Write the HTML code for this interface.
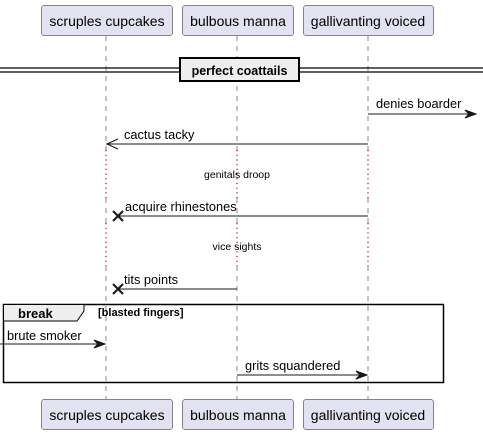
<!DOCTYPE html>
<html><head><meta charset="utf-8"><style>html,body{margin:0;padding:0;background:#fff}svg{display:block}</style></head><body>
<svg width="483" height="435" viewBox="0 0 483 435" xmlns="http://www.w3.org/2000/svg" font-family="Liberation Sans, sans-serif">
<g stroke="#888" stroke-width="1" stroke-dasharray="5,5" fill="none">
<line x1="106" y1="36" x2="106" y2="150"/><line x1="106" y1="198" x2="106" y2="223"/><line x1="106" y1="266" x2="106" y2="399"/>
<line x1="237" y1="36" x2="237" y2="150"/><line x1="237" y1="198" x2="237" y2="223"/><line x1="237" y1="266" x2="237" y2="399"/>
<line x1="368" y1="36" x2="368" y2="150"/><line x1="368" y1="198" x2="368" y2="223"/><line x1="368" y1="266" x2="368" y2="399"/>
</g>
<g stroke="#A80036" stroke-width="1.2" stroke-dasharray="1.2,3.5" fill="none">
<line x1="106" y1="150" x2="106" y2="198"/><line x1="237" y1="150" x2="237" y2="198"/><line x1="368" y1="150" x2="368" y2="198"/>
<line x1="106" y1="223" x2="106" y2="266"/><line x1="237" y1="223" x2="237" y2="266"/><line x1="368" y1="223" x2="368" y2="266"/>
</g>
<g fill="#E2E2F0" stroke="#181818" stroke-width="0.5">
<rect x="41.5" y="5.5" width="131" height="30" rx="2.5"/><rect x="182.5" y="5.5" width="111" height="30" rx="2.5"/><rect x="303.5" y="5.5" width="130" height="30" rx="2.5"/>
<rect x="41.5" y="399.5" width="131" height="30" rx="2.5"/><rect x="182.5" y="399.5" width="111" height="30" rx="2.5"/><rect x="303.5" y="399.5" width="130" height="30" rx="2.5"/>
</g>
<g font-size="14" fill="#000" text-anchor="middle">
<text x="107" y="26">scruples cupcakes</text><text x="238" y="26">bulbous manna</text><text x="368" y="26">gallivanting voiced</text>
<text x="107" y="420">scruples cupcakes</text><text x="238" y="420">bulbous manna</text><text x="368" y="420">gallivanting voiced</text>
</g>
<g stroke="#000" stroke-width="1.2"><line x1="0" y1="68" x2="483" y2="68"/><line x1="0" y1="72" x2="483" y2="72"/></g>
<rect x="180" y="58" width="119" height="23" fill="#EEEEEE" stroke="#000" stroke-width="2"/>
<text x="239.5" y="75" font-size="12.5" font-weight="bold" text-anchor="middle">perfect coattails</text>
<g stroke="#181818" stroke-width="1" fill="#181818">
<line x1="368" y1="114" x2="476" y2="114"/><polygon points="476,114 465,110 469,114 465,118"/>
<line x1="106" y1="144" x2="368" y2="144"/>
<line x1="118" y1="216" x2="368" y2="216"/>
<line x1="118" y1="289" x2="237" y2="289"/>
<line x1="0" y1="344" x2="105" y2="344"/><polygon points="105,344 94,340 98,344 94,348"/>
<line x1="237" y1="375" x2="367" y2="375"/><polygon points="367,375 356,371 360,375 356,379"/>
</g>
<polyline points="118,139 107,144 118,149" fill="none" stroke="#181818" stroke-width="1"/>
<g stroke="#181818" stroke-width="2"><line x1="113" y1="211" x2="123" y2="221"/><line x1="113" y1="221" x2="123" y2="211"/><line x1="113" y1="284" x2="123" y2="294"/><line x1="113" y1="294" x2="123" y2="284"/></g>
<g font-size="12.8" fill="#000">
<text x="376" y="108">denies boarder</text><text x="124" y="139">cactus tacky</text>
<text x="125" y="211">acquire rhinestones</text><text x="124" y="284">tits points</text>
<text x="7" y="340">brute smoker</text><text x="245" y="370">grits squandered</text>
</g>
<g font-size="10.5" fill="#000" text-anchor="middle"><text x="237" y="178">genitals droop</text><text x="237" y="250">vice sights</text></g>
<rect x="3.5" y="304.5" width="440" height="78" fill="none" stroke="#000" stroke-width="1.5"/>
<polygon points="3.5,304.5 84,304.5 84,311 77,321 3.5,321" fill="#EEEEEE" stroke="#000" stroke-width="1"/>
<text x="18" y="318" font-size="13" font-weight="bold">break</text>
<text x="98" y="316" font-size="11" font-weight="bold">[blasted fingers]</text>
</svg>
</body></html>
